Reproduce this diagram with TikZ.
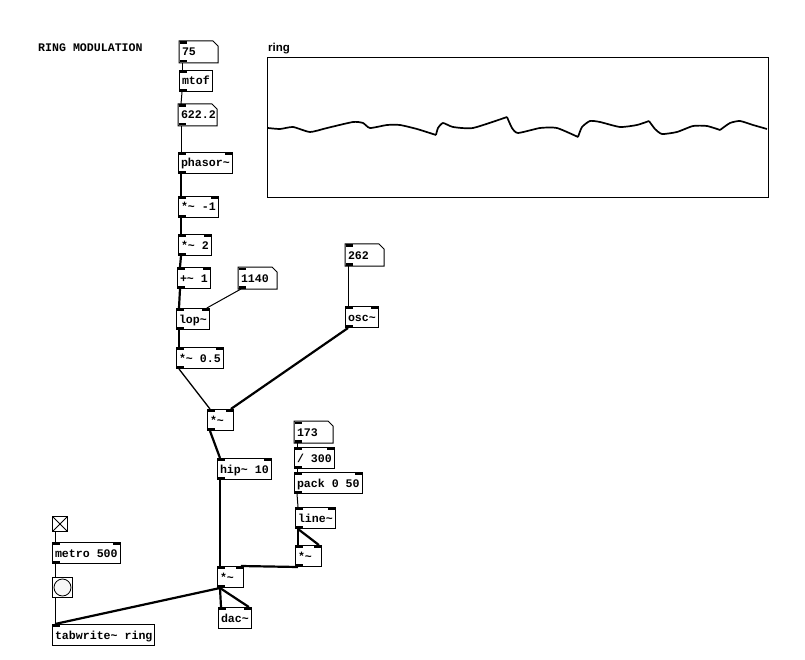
\documentclass[tikz,border=0pt]{standalone}
\usepackage{fontspec}
\setmonofont{Liberation Mono}
\newfontfamily\labelfont{Liberation Sans}
\usepackage{tikz}
\usetikzlibrary{positioning,calc}
\newcommand{\sg}{\textasciitilde}
\newcommand{\pdinl}{\fill (path picture bounding box.north west) rectangle ++(7pt,-2.5pt);}
\newcommand{\pdinr}{\fill (path picture bounding box.north east) rectangle ++(-7pt,-2.5pt);}
\newcommand{\pdout}{\fill (path picture bounding box.south west) rectangle ++(7pt,2.5pt);}

\begin{document}
\begin{tikzpicture}[x=1pt, y=-1pt,
  pdfont/.style={font=\ttfamily\bfseries\fontsize{11.6}{13}\selectfont},
  box/.style={pdfont, draw, line width=1pt, anchor=north west, inner xsep=2.5pt, inner ysep=0pt, minimum height=21pt, text height=9.5pt, text depth=1.5pt},
  obj/.style={box, minimum width=25pt, path picture={\pdinl\pdinr\pdout}},
  obja/.style={box, minimum width=25pt, path picture={\pdinl\pdout}},
  objd/.style={box, minimum width=25pt, path picture={\pdinl\pdinr}},
  objt/.style={box, minimum width=25pt, path picture={\pdinl}},
  numbox/.style={box, draw=none, text width=33pt, align=left, path picture={\pdinl\pdout},
    append after command={\pgfextra{\draw[line width=1pt] (\tikzlastnode.north west) -- ([xshift=-5pt]\tikzlastnode.north east) -- ([yshift=-5pt]\tikzlastnode.north east) -- (\tikzlastnode.south east) -- (\tikzlastnode.south west) -- cycle;}}},
  tglbox/.style={draw, line width=1pt, anchor=north west, inner sep=0pt, minimum size=15pt,
    path picture={\draw[line width=0.8pt] (path picture bounding box.north west) -- (path picture bounding box.south east) (path picture bounding box.north east) -- (path picture bounding box.south west);}},
  bngbox/.style={draw, line width=1pt, anchor=north west, inner sep=0pt, minimum size=20pt,
    path picture={\draw[line width=0.8pt, fill=gray!6] (path picture bounding box.center) circle (8.5pt);}},
  ctl/.style={line width=1pt},
  sig/.style={line width=2.2pt}
]
\path[use as bounding box, fill=white] (0,0) rectangle (805,660);

\node[pdfont, anchor=base west, inner sep=0pt] (title) at (38,52) {RING MODULATION};
\node[anchor=base west, inner sep=0pt, font=\labelfont\bfseries\fontsize{11.5}{13}\selectfont] (lbl) at (268,51.5) {ring};
\node[draw, line width=1pt, anchor=north west, inner sep=0pt, minimum width=501pt, minimum height=140pt] (array) at (267,57) {};
\draw[line width=1.7pt, line join=round] plot[smooth, tension=0.35] coordinates {
  (268,128) (280,129) (293,127) (310,132) (327,128) (353,122) (363,123) (370,128)
  (387,125) (400,125) (417,129) (436,135)} plot[smooth, tension=0.35] coordinates {
  (436,135) (438,128) (443,123) (453,127) (473,128) (507,117)} plot[smooth, tension=0.35] coordinates {
  (507,117) (512,128) (518,133) (540,128) (557,128) (578,137)} plot[smooth, tension=0.35] coordinates {
  (578,137) (582,127) (590,121) (600,122) (620,127) (637,125) (649,121)} plot[smooth, tension=0.35] coordinates {
  (649,121) (655,129) (662,134) (677,132) (693,126) (707,126) (720,130)} plot[smooth, tension=0.35] coordinates {
  (720,130) (730,123) (740,121) (753,125) (767,129)};

\node[numbox] (n75) at (179,41) {75};
\node[obja] (mtof) at (179,70) {mtof};
\node[numbox] (n622) at (178,104) {622.2};
\node[obj] (phasor) at (178,152) {phasor\sg};
\node[obj] (mulneg) at (178,196) {*\sg{} -1};
\node[obj] (mul2) at (178,234) {*\sg{} 2};
\node[obj] (add1) at (177,267) {+\sg{} 1};
\node[numbox] (n1140) at (238,267) {1140};
\node[obj] (lop) at (176,308) {lop\sg};
\node[obj] (mulhalf) at (176,347) {*\sg{} 0.5};
\node[numbox] (n262) at (345,244) {262};
\node[obj] (osc) at (345,306) {osc\sg};
\node[obj] (ringmul) at (207,409) {*\sg\hphantom{0}};
\node[obj] (hip) at (217,458) {hip\sg{} 10};
\node[numbox] (n173) at (294,421) {173};
\node[obj] (div) at (294,447) {/ 300};
\node[obj] (pack) at (294,472) {pack 0 50};
\node[obj] (line) at (295,507) {line\sg};
\node[obj] (envmul) at (295,545) {*\sg\hphantom{0}};
\node[obj] (outmul) at (217,566) {*\sg\hphantom{0}};
\node[objd] (dac) at (218,607) {dac\sg};
\node[tglbox] (tgl) at (52,516) {};
\node[obj] (metro) at (52,542) {metro 500};
\node[bngbox] (bng) at (52,577) {};
\node[objt] (tabw) at (52,624) {tabwrite\sg{} ring};

\draw[ctl] ([xshift=3pt]n75.south west) -- ([xshift=3pt]mtof.north west);
\draw[ctl] ([xshift=3pt]mtof.south west) -- ([xshift=3pt]n622.north west);
\draw[ctl] ([xshift=3pt]n622.south west) -- ([xshift=3pt]phasor.north west);
\draw[sig] ([xshift=3pt]phasor.south west) -- ([xshift=3pt]mulneg.north west);
\draw[sig] ([xshift=3pt]mulneg.south west) -- ([xshift=3pt]mul2.north west);
\draw[sig] ([xshift=3pt]mul2.south west) -- ([xshift=3pt]add1.north west);
\draw[sig] ([xshift=3pt]add1.south west) -- ([xshift=3pt]lop.north west);
\draw[ctl] ([xshift=3pt]n1140.south west) -- ([xshift=-3pt]lop.north east);
\draw[sig] ([xshift=3pt]lop.south west) -- ([xshift=3pt]mulhalf.north west);
\draw[ctl] ([xshift=3pt]n262.south west) -- ([xshift=3pt]osc.north west);
\draw[line width=1.3pt] ([xshift=3pt]mulhalf.south west) -- ([xshift=3pt]ringmul.north west);
\draw[sig] ([xshift=3pt]osc.south west) -- ([xshift=-3pt]ringmul.north east);
\draw[sig] ([xshift=3pt]ringmul.south west) -- ([xshift=3pt]hip.north west);
\draw[sig] ([xshift=3pt]hip.south west) -- ([xshift=3pt]outmul.north west);
\draw[ctl] ([xshift=3pt]n173.south west) -- ([xshift=3pt]div.north west);
\draw[ctl] ([xshift=3pt]div.south west) -- ([xshift=3pt]pack.north west);
\draw[ctl] ([xshift=3pt]pack.south west) -- ([xshift=3pt]line.north west);
\draw[sig] ([xshift=3pt]line.south west) -- ([xshift=3pt]envmul.north west);
\draw[sig] ([xshift=3pt]line.south west) -- ([xshift=-3pt]envmul.north east);
\draw[sig] ([xshift=3pt]envmul.south west) -- ([xshift=-3pt]outmul.north east);
\draw[sig] ([xshift=3pt]outmul.south west) -- ([xshift=3pt]dac.north west);
\draw[sig] ([xshift=3pt]outmul.south west) -- ([xshift=-3pt]dac.north east);
\draw[sig] ([xshift=3pt]outmul.south west) -- ([xshift=3pt]tabw.north west);
\draw[ctl] ([xshift=3pt]tgl.south west) -- ([xshift=3pt]metro.north west);
\draw[ctl] ([xshift=3pt]metro.south west) -- ([xshift=3pt]bng.north west);
\draw[ctl] ([xshift=3pt]bng.south west) -- ([xshift=3pt]tabw.north west);
\end{tikzpicture}
\end{document}
